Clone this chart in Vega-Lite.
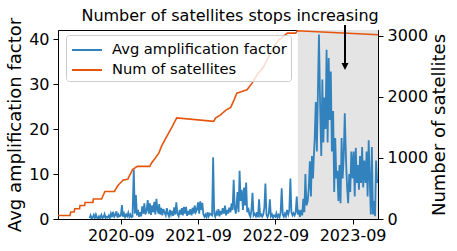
{
  "$schema": "https://vega.github.io/schema/vega-lite/v6.json",
  "width": 320,
  "height": 189,
  "autosize": {"type": "none"},
  "padding": {"left": 58, "top": 30, "right": 79, "bottom": 32},
  "background": "white",
  "datasets": {
    "amp": [
      {"d":"2020-04-06","v":0.2},{"d":"2020-04-11","v":0.8},{"d":"2020-04-16","v":0.1},{"d":"2020-04-21","v":0.3},{"d":"2020-04-26","v":0.9},
      {"d":"2020-05-01","v":0.2},{"d":"2020-05-06","v":1.0},{"d":"2020-05-11","v":0.3},{"d":"2020-05-16","v":0.1},{"d":"2020-05-21","v":0.6},{"d":"2020-05-26","v":0.2},
      {"d":"2020-06-01","v":0.9},{"d":"2020-06-06","v":0.2},{"d":"2020-06-11","v":0.4},{"d":"2020-06-16","v":1.1},{"d":"2020-06-21","v":0.2},{"d":"2020-06-26","v":0.5},
      {"d":"2020-07-01","v":0.3},{"d":"2020-07-06","v":0.8},{"d":"2020-07-11","v":0.2},{"d":"2020-07-16","v":1.2},{"d":"2020-07-21","v":0.4},{"d":"2020-07-26","v":1.6},
      {"d":"2020-08-01","v":0.5},{"d":"2020-08-06","v":0.9},{"d":"2020-08-11","v":1.7},{"d":"2020-08-16","v":0.3},{"d":"2020-08-21","v":1.0},{"d":"2020-08-26","v":0.6},
      {"d":"2020-09-01","v":0.8},{"d":"2020-09-06","v":3.1},{"d":"2020-09-11","v":0.5},{"d":"2020-09-16","v":1.2},{"d":"2020-09-21","v":0.4},{"d":"2020-09-26","v":1.0},
      {"d":"2020-10-01","v":0.6},{"d":"2020-10-06","v":1.4},{"d":"2020-10-11","v":0.5},{"d":"2020-10-16","v":1.0},{"d":"2020-10-21","v":0.4},{"d":"2020-10-26","v":0.5},
      {"d":"2020-11-01","v":11.0},{"d":"2020-11-06","v":1.2},{"d":"2020-11-11","v":5.3},{"d":"2020-11-16","v":0.8},{"d":"2020-11-21","v":2.0},{"d":"2020-11-26","v":0.5},
      {"d":"2020-12-01","v":1.5},{"d":"2020-12-06","v":0.6},{"d":"2020-12-11","v":2.8},{"d":"2020-12-16","v":1.2},{"d":"2020-12-21","v":3.5},{"d":"2020-12-26","v":1.0},
      {"d":"2021-01-01","v":2.0},{"d":"2021-01-06","v":4.2},{"d":"2021-01-11","v":1.2},{"d":"2021-01-16","v":3.5},{"d":"2021-01-21","v":0.9},{"d":"2021-01-26","v":3.0},
      {"d":"2021-02-01","v":1.5},{"d":"2021-02-06","v":3.8},{"d":"2021-02-11","v":1.0},{"d":"2021-02-16","v":4.5},{"d":"2021-02-21","v":2.0},{"d":"2021-02-26","v":1.2},
      {"d":"2021-03-01","v":3.3},{"d":"2021-03-06","v":1.0},{"d":"2021-03-11","v":2.5},{"d":"2021-03-16","v":0.8},{"d":"2021-03-21","v":2.2},{"d":"2021-03-26","v":1.5},
      {"d":"2021-04-01","v":0.8},{"d":"2021-04-06","v":2.4},{"d":"2021-04-11","v":1.2},{"d":"2021-04-16","v":0.6},{"d":"2021-04-21","v":2.0},{"d":"2021-04-26","v":1.0},
      {"d":"2021-05-01","v":1.8},{"d":"2021-05-06","v":0.7},{"d":"2021-05-11","v":2.6},{"d":"2021-05-16","v":1.0},{"d":"2021-05-21","v":3.7},{"d":"2021-05-26","v":1.2},
      {"d":"2021-06-01","v":0.6},{"d":"2021-06-06","v":2.0},{"d":"2021-06-11","v":1.0},{"d":"2021-06-16","v":2.4},{"d":"2021-06-21","v":0.8},{"d":"2021-06-26","v":2.7},
      {"d":"2021-07-01","v":1.2},{"d":"2021-07-06","v":2.7},{"d":"2021-07-11","v":0.7},{"d":"2021-07-16","v":1.8},{"d":"2021-07-21","v":1.0},{"d":"2021-07-26","v":2.2},
      {"d":"2021-08-01","v":0.8},{"d":"2021-08-06","v":2.5},{"d":"2021-08-11","v":1.2},{"d":"2021-08-16","v":3.0},{"d":"2021-08-21","v":1.5},{"d":"2021-08-26","v":2.0},
      {"d":"2021-09-01","v":3.7},{"d":"2021-09-06","v":1.2},{"d":"2021-09-11","v":3.9},{"d":"2021-09-16","v":2.0},{"d":"2021-09-21","v":3.6},{"d":"2021-09-26","v":1.0},
      {"d":"2021-10-01","v":0.5},{"d":"2021-10-06","v":1.0},{"d":"2021-10-11","v":0.4},{"d":"2021-10-16","v":1.5},{"d":"2021-10-21","v":0.6},{"d":"2021-10-26","v":1.2},
      {"d":"2021-11-01","v":1.0},{"d":"2021-11-06","v":0.8},{"d":"2021-11-11","v":13.7},{"d":"2021-11-16","v":1.2},{"d":"2021-11-21","v":0.5},{"d":"2021-11-26","v":1.5},
      {"d":"2021-12-01","v":0.8},{"d":"2021-12-06","v":2.2},{"d":"2021-12-11","v":0.6},{"d":"2021-12-16","v":1.8},{"d":"2021-12-21","v":1.0},{"d":"2021-12-26","v":2.4},
      {"d":"2022-01-01","v":1.2},{"d":"2022-01-06","v":3.0},{"d":"2022-01-11","v":0.8},{"d":"2022-01-16","v":2.0},{"d":"2022-01-21","v":1.2},{"d":"2022-01-26","v":2.5},
      {"d":"2022-02-01","v":1.5},{"d":"2022-02-06","v":3.5},{"d":"2022-02-11","v":2.0},{"d":"2022-02-16","v":8.7},{"d":"2022-02-21","v":2.5},{"d":"2022-02-26","v":1.2},
      {"d":"2022-03-01","v":2.5},{"d":"2022-03-06","v":6.0},{"d":"2022-03-11","v":1.5},{"d":"2022-03-16","v":10.7},{"d":"2022-03-21","v":4.0},{"d":"2022-03-26","v":6.5},
      {"d":"2022-04-01","v":2.0},{"d":"2022-04-06","v":7.0},{"d":"2022-04-11","v":3.0},{"d":"2022-04-16","v":8.1},{"d":"2022-04-21","v":1.5},{"d":"2022-04-26","v":2.5},
      {"d":"2022-05-01","v":1.0},{"d":"2022-05-06","v":0.5},{"d":"2022-05-11","v":2.0},{"d":"2022-05-16","v":5.8},{"d":"2022-05-21","v":0.8},{"d":"2022-05-26","v":1.2},
      {"d":"2022-06-01","v":0.6},{"d":"2022-06-06","v":1.5},{"d":"2022-06-11","v":0.4},{"d":"2022-06-16","v":4.4},{"d":"2022-06-21","v":0.7},{"d":"2022-06-26","v":1.0},
      {"d":"2022-07-01","v":0.5},{"d":"2022-07-06","v":1.0},{"d":"2022-07-11","v":2.5},{"d":"2022-07-16","v":7.9},{"d":"2022-07-21","v":1.0},{"d":"2022-07-26","v":0.4},
      {"d":"2022-08-01","v":1.2},{"d":"2022-08-06","v":4.4},{"d":"2022-08-11","v":0.6},{"d":"2022-08-16","v":1.0},{"d":"2022-08-21","v":0.3},{"d":"2022-08-26","v":0.8},
      {"d":"2022-09-01","v":0.5},{"d":"2022-09-06","v":1.3},{"d":"2022-09-11","v":0.3},{"d":"2022-09-16","v":0.9},{"d":"2022-09-21","v":0.4},{"d":"2022-09-26","v":1.5},
      {"d":"2022-10-01","v":6.8},{"d":"2022-10-06","v":1.0},{"d":"2022-10-11","v":0.5},{"d":"2022-10-16","v":1.2},{"d":"2022-10-21","v":0.6},{"d":"2022-10-26","v":2.0},
      {"d":"2022-11-01","v":1.0},{"d":"2022-11-06","v":2.0},{"d":"2022-11-11","v":9.0},{"d":"2022-11-16","v":1.5},{"d":"2022-11-21","v":0.8},{"d":"2022-11-26","v":1.3},
      {"d":"2022-12-01","v":0.8},{"d":"2022-12-06","v":1.5},{"d":"2022-12-11","v":5.0},{"d":"2022-12-16","v":1.0},{"d":"2022-12-21","v":2.0},{"d":"2022-12-26","v":0.5},
      {"d":"2023-01-01","v":2.0},{"d":"2023-01-06","v":0.8},{"d":"2023-01-11","v":4.5},{"d":"2023-01-16","v":1.5},{"d":"2023-01-21","v":10.0},{"d":"2023-01-26","v":3.0},
      {"d":"2023-02-01","v":4.0},{"d":"2023-02-06","v":7.0},{"d":"2023-02-11","v":12.8},{"d":"2023-02-16","v":5.0},{"d":"2023-02-21","v":14.0},{"d":"2023-02-26","v":9.0},
      {"d":"2023-03-01","v":13.0},{"d":"2023-03-06","v":18.0},{"d":"2023-03-11","v":26.0},{"d":"2023-03-16","v":15.0},{"d":"2023-03-21","v":28.0},{"d":"2023-03-26","v":41.0},
      {"d":"2023-04-01","v":24.0},{"d":"2023-04-06","v":14.0},{"d":"2023-04-11","v":31.0},{"d":"2023-04-16","v":17.0},{"d":"2023-04-21","v":27.0},{"d":"2023-04-26","v":20.0},
      {"d":"2023-05-01","v":37.6},{"d":"2023-05-06","v":17.0},{"d":"2023-05-11","v":35.8},{"d":"2023-05-16","v":22.0},{"d":"2023-05-21","v":32.8},{"d":"2023-05-26","v":15.0},
      {"d":"2023-06-01","v":24.0},{"d":"2023-06-06","v":6.0},{"d":"2023-06-11","v":18.0},{"d":"2023-06-16","v":9.0},{"d":"2023-06-21","v":10.7},{"d":"2023-06-26","v":4.0},
      {"d":"2023-07-01","v":12.0},{"d":"2023-07-06","v":3.5},{"d":"2023-07-11","v":18.0},{"d":"2023-07-16","v":9.0},{"d":"2023-07-21","v":14.0},{"d":"2023-07-26","v":23.5},
      {"d":"2023-08-01","v":12.9},{"d":"2023-08-06","v":7.0},{"d":"2023-08-11","v":3.5},{"d":"2023-08-16","v":10.0},{"d":"2023-08-21","v":6.0},{"d":"2023-08-26","v":15.0},
      {"d":"2023-09-01","v":9.0},{"d":"2023-09-06","v":15.0},{"d":"2023-09-11","v":5.0},{"d":"2023-09-16","v":15.8},{"d":"2023-09-21","v":8.0},{"d":"2023-09-26","v":12.0},
      {"d":"2023-10-01","v":6.5},{"d":"2023-10-06","v":14.0},{"d":"2023-10-11","v":8.0},{"d":"2023-10-16","v":16.0},{"d":"2023-10-21","v":7.0},{"d":"2023-10-26","v":13.0},
      {"d":"2023-11-01","v":8.0},{"d":"2023-11-06","v":15.0},{"d":"2023-11-11","v":5.0},{"d":"2023-11-16","v":17.5},{"d":"2023-11-21","v":9.0},{"d":"2023-11-26","v":1.0},
      {"d":"2023-12-01","v":16.0},{"d":"2023-12-06","v":1.0},{"d":"2023-12-11","v":4.0},{"d":"2023-12-16","v":0.6},{"d":"2023-12-21","v":13.0},{"d":"2023-12-26","v":8.0}
    ],
    "sat": [
      {"d":"2019-11-09","n":57},{"d":"2020-01-05","n":57},{"d":"2020-01-08","n":115},{"d":"2020-01-24","n":115},
      {"d":"2020-01-27","n":167},{"d":"2020-02-19","n":167},{"d":"2020-02-21","n":221},{"d":"2020-03-14","n":221},
      {"d":"2020-03-16","n":270},{"d":"2020-04-22","n":270},{"d":"2020-04-24","n":328},{"d":"2020-06-02","n":328},
      {"d":"2020-06-10","n":393},{"d":"2020-06-18","n":451},{"d":"2020-08-02","n":451},{"d":"2020-08-11","n":508},
      {"d":"2020-08-20","n":557},{"d":"2020-09-03","n":607},{"d":"2020-09-12","n":639},{"d":"2020-10-04","n":651},
      {"d":"2020-10-10","n":700},{"d":"2020-10-19","n":754},{"d":"2020-10-26","n":811},{"d":"2020-11-18","n":861},
      {"d":"2021-01-16","n":861},{"d":"2021-01-24","n":918},{"d":"2021-02-11","n":1000},{"d":"2021-02-27","n":1077},
      {"d":"2021-03-13","n":1197},{"d":"2021-03-28","n":1295},{"d":"2021-05-01","n":1508},{"d":"2021-05-23","n":1656},
      {"d":"2021-11-14","n":1598},{"d":"2021-11-22","n":1651},{"d":"2021-12-16","n":1705},{"d":"2022-01-09","n":1779},
      {"d":"2022-02-02","n":1828},{"d":"2022-02-18","n":1951},{"d":"2022-03-03","n":2061},{"d":"2022-03-27","n":2087},
      {"d":"2022-04-20","n":2115},{"d":"2022-05-14","n":2225},{"d":"2022-06-07","n":2361},{"d":"2022-07-08","n":2497},
      {"d":"2022-08-01","n":2661},{"d":"2022-08-25","n":2825},{"d":"2022-09-18","n":2934},{"d":"2022-10-28","n":3044},
      {"d":"2022-12-06","n":3044},{"d":"2022-12-14","n":3082},{"d":"2023-12-30","n":3016}
    ],
    "note": [
      {"d":"2023-07-27","top":3177,"bottom":2555,"head":2497,"td":"2022-01-30","ty":3242,"label":"Number of satellites stops increasing"}
    ]
  },
  "layer": [
    {
      "data": {"values": [{"s": "2022-12-16", "e": "2024-01-10"}]},
      "mark": {"type": "rect", "fill": "#e4e4e4", "clip": true},
      "encoding": {
        "x": {
          "field": "s", "type": "temporal", "title": null,
          "scale": {"domain": [{"year": 2019, "month": 11, "date": 9}, {"year": 2023, "month": 12, "date": 30}]},
          "axis": {
            "values": [{"year": 2020, "month": 9, "date": 1}, {"year": 2021, "month": 9, "date": 1}, {"year": 2022, "month": 9, "date": 1}, {"year": 2023, "month": 9, "date": 1}],
            "format": "%Y-%m", "labelFlush": false, "labelOverlap": false, "title": null, "labelPadding": 3
          }
        },
        "x2": {"field": "e"}
      }
    },
    {
      "data": {"name": "amp"},
      "mark": {"type": "line", "strokeWidth": 1.8, "clip": true},
      "encoding": {
        "x": {"field": "d", "type": "temporal", "title": null},
        "y": {
          "field": "v", "type": "quantitative",
          "scale": {"domain": [0, 42], "nice": false, "zero": true},
          "axis": {"orient": "left", "values": [0, 10, 20, 30, 40], "title": "Avg amplification factor", "titleX": -43, "titleBaseline": "middle", "titleAngle": -90}
        },
        "color": {
          "datum": "Avg amplification factor",
          "scale": {"domain": ["Avg amplification factor", "Num of satellites"], "range": ["#3182bd", "#e6550d"]},
          "legend": {
            "orient": "none", "legendX": 8, "legendY": 5, "title": null,
            "symbolType": "M-1.5,0L1.5,0", "symbolSize": 400, "symbolStrokeWidth": 2,
            "labelFontSize": 14.7, "labelColor": "black", "labelLimit": 300,
            "padding": 4, "rowPadding": 2, "symbolOffset": 6, "labelOffset": 14,
            "fillColor": "rgba(255,255,255,0.8)", "strokeColor": "#cccccc", "cornerRadius": 3
          }
        }
      }
    },
    {
      "layer": [
        {
          "data": {"name": "sat"},
          "mark": {"type": "line", "strokeWidth": 1.6},
          "encoding": {
            "x": {"field": "d", "type": "temporal", "title": null},
            "y": {
              "field": "n", "type": "quantitative",
              "scale": {"domain": [0, 3095], "nice": false, "zero": true},
              "axis": {"orient": "right", "values": [0, 1000, 2000, 3000], "format": "d", "title": "Number of satellites", "titleX": 61, "titleBaseline": "middle", "titleAngle": -90}
            },
            "color": {"datum": "Num of satellites"}
          }
        },
        {
          "data": {"name": "note"},
          "mark": {"type": "rule", "color": "black", "strokeWidth": 2},
          "encoding": {
            "x": {"field": "d", "type": "temporal", "title": null},
            "y": {"field": "top", "type": "quantitative"},
            "y2": {"field": "bottom"}
          }
        },
        {
          "data": {"name": "note"},
          "mark": {"type": "point", "shape": "M-1,-1L1,-1L0,1Z", "filled": true, "color": "black", "size": 49, "opacity": 1},
          "encoding": {
            "x": {"field": "d", "type": "temporal", "title": null},
            "y": {"field": "head", "type": "quantitative"}
          }
        },
        {
          "data": {"name": "note"},
          "mark": {"type": "text", "fontSize": 16, "color": "black", "align": "center", "baseline": "alphabetic"},
          "encoding": {
            "x": {"field": "td", "type": "temporal", "title": null},
            "y": {"field": "ty", "type": "quantitative"},
            "text": {"field": "label"}
          }
        }
      ]
    }
  ],
  "resolve": {"scale": {"y": "independent"}},
  "config": {
    "font": "DejaVu Sans",
    "view": {"stroke": "black", "strokeWidth": 1},
    "axis": {
      "grid": false, "domainColor": "black", "tickColor": "black", "labelColor": "black", "titleColor": "black",
      "labelFontSize": 16, "titleFontSize": 18, "titleFontWeight": "normal", "tickSize": 5, "labelPadding": 4,
      "domainWidth": 1, "tickWidth": 1
    },
    "legend": {"labelFont": "DejaVu Sans"}
  }
}
